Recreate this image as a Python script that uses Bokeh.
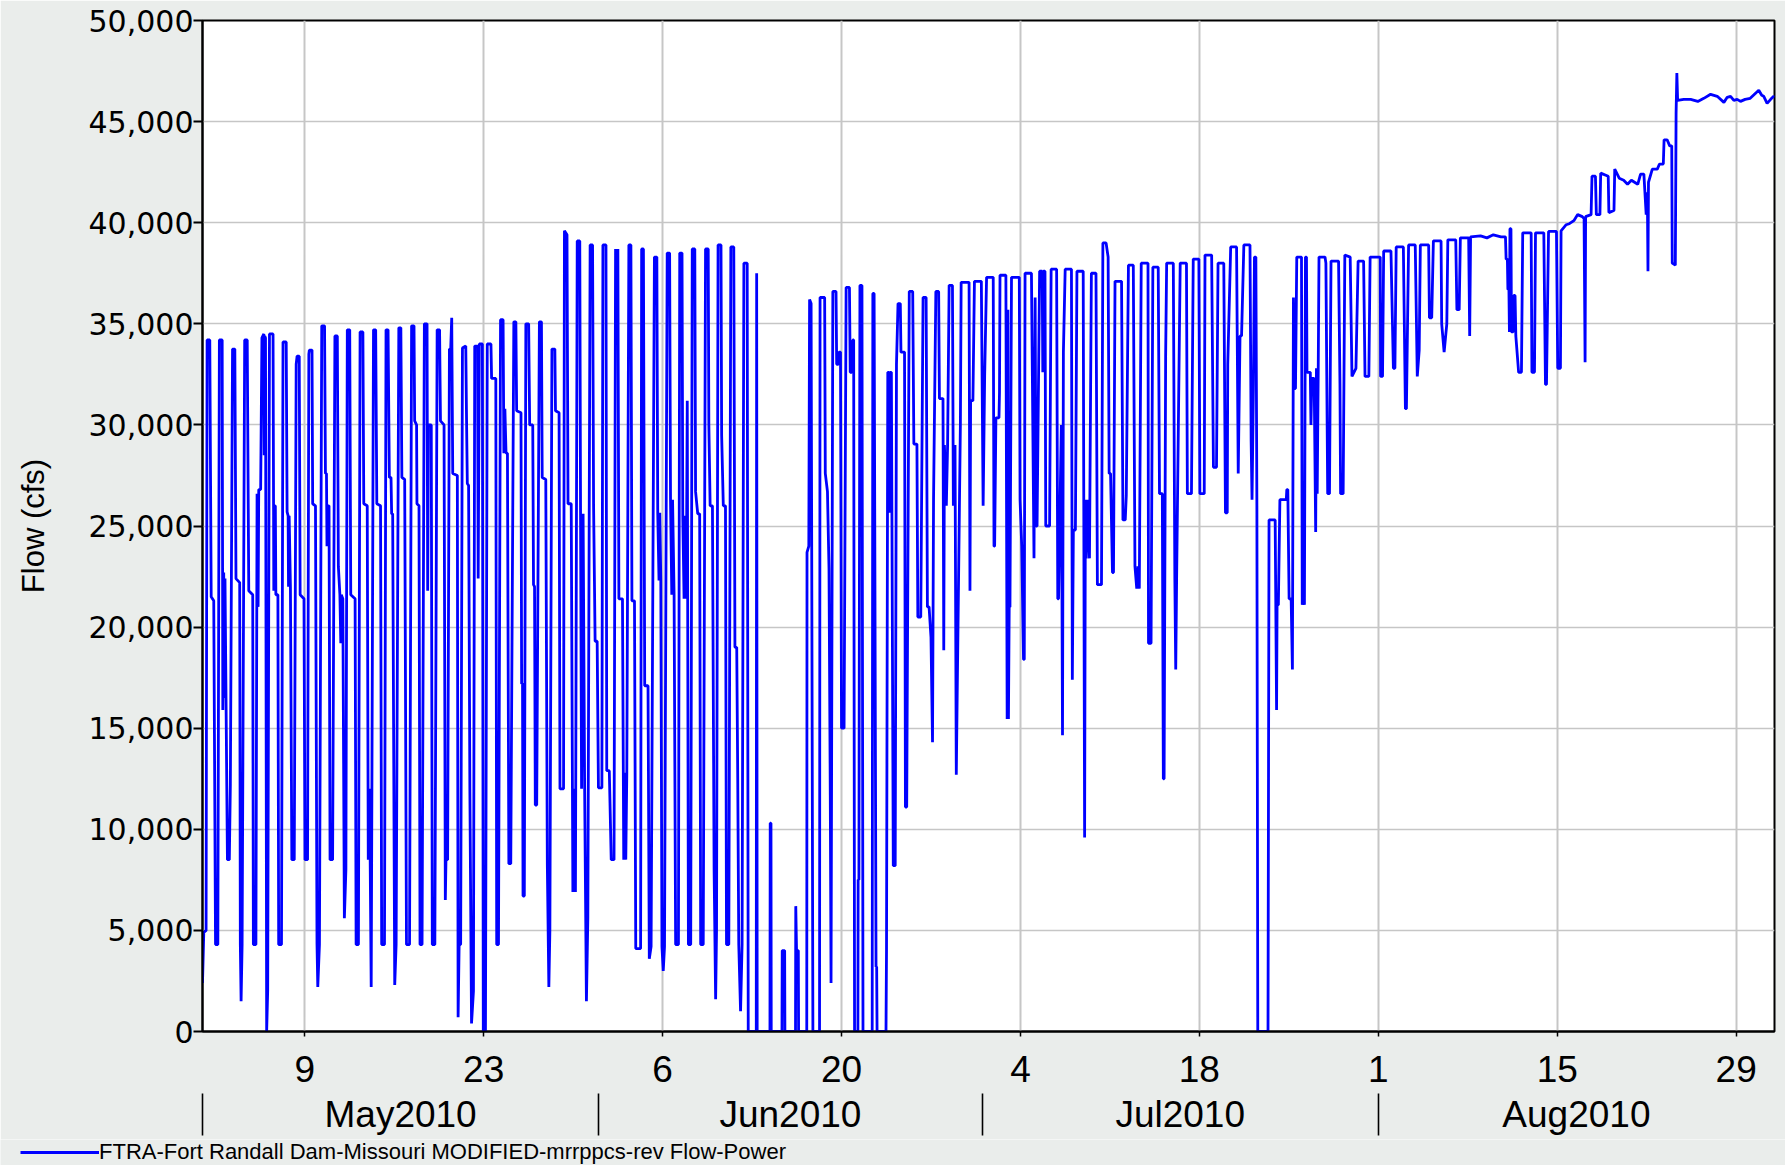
from datetime import datetime, timedelta
from bokeh.plotting import figure
from bokeh.layouts import column
from bokeh.models import (FixedTicker, DatetimeAxis, NumeralTickFormatter, Legend,
                          LegendItem, Range1d, ColumnDataSource)
from bokeh.embed import file_html
from bokeh.resources import INLINE

# ---------------- data: (day of month, flow in cfs) ----------------
may_points = [
    (1.00, 2400), (1.10, 4900), (1.28, 5000), (1.36, 34200), (1.57, 34200), (1.68, 21500), (1.88, 21300), (2.02, 4300),
    (2.20, 4300), (2.32, 34200), (2.54, 34200), (2.59, 15900), (2.66, 22700), (2.72, 16500), (2.76, 22400), (2.95, 8500), (3.10, 8500), (3.18, 12200),
    (3.35, 33750), (3.53, 33750), (3.62, 22400), (3.91, 22200), (3.96, 4300), (4.02, 1500), (4.10, 4300),
    (4.30, 34200), (4.50, 34200), (4.62, 21800), (4.93, 21600), (4.98, 4300), (5.18, 4300),
    (5.27, 26600), (5.35, 21000), (5.40, 26800), (5.55, 26800), (5.65, 34300), (5.80, 34500), (5.83, 28500), (5.87, 34400), (5.93, 34300), (6.02, 0),
    (6.10, 2000), (6.24, 34500), (6.52, 34500), (6.58, 21800), (6.64, 26000), (6.70, 26000), (6.74, 21600), (6.90, 21600), (6.96, 4300), (7.18, 4300),
    (7.30, 34100), (7.55, 34100), (7.62, 25700), (7.70, 25500), (7.73, 22000), (7.78, 25500), (7.88, 22000), (7.99, 8500), (8.18, 8500),
    (8.33, 33000), (8.40, 33400), (8.57, 33400), (8.64, 21600), (8.94, 21400), (9.02, 8500), (9.22, 8500),
    (9.32, 33500), (9.36, 33700), (9.57, 33700), (9.62, 26100), (9.84, 26000), (9.96, 4300), (10.02, 2200), (10.15, 4300),
    (10.33, 34900), (10.55, 34900), (10.62, 27600), (10.70, 27600), (10.74, 24000), (10.80, 26000), (10.90, 26000), (10.98, 8500), (11.18, 8500),
    (11.36, 34400), (11.55, 34400), (11.63, 23000), (11.75, 21600), (11.82, 19200), (11.86, 21600), (11.98, 21400), (12.10, 5600), (12.22, 8000),
    (12.33, 34700), (12.52, 34700), (12.60, 21600), (12.94, 21400), (13.02, 4300), (13.20, 4300),
    (13.33, 34600), (13.55, 34600), (13.62, 26100), (13.89, 26000), (13.97, 8500), (14.07, 12000), (14.12, 8500), (14.20, 2200),
    (14.38, 34700), (14.55, 34700), (14.64, 26100), (14.93, 26000), (15.02, 4300), (15.24, 4300),
    (15.36, 34700), (15.52, 34700), (15.62, 27400), (15.75, 27400), (15.80, 25600), (15.88, 25600), (16.04, 2300), (16.15, 4300),
    (16.36, 34800), (16.52, 34800), (16.60, 27400), (16.82, 27300), (16.96, 4300), (17.20, 4300),
    (17.36, 34900), (17.55, 34900), (17.60, 30200), (17.75, 30000), (17.78, 26100), (17.94, 26000), (18.02, 4300), (18.18, 4300),
    (18.36, 35000), (18.57, 35000), (18.62, 21800), (18.68, 30000), (18.90, 30000), (18.98, 4300), (19.18, 4300),
    (19.36, 34700), (19.55, 34700), (19.62, 30200), (19.90, 30000), (20.00, 6500), (20.05, 8500), (20.18, 8500),
    (20.32, 33750), (20.42, 33750), (20.50, 35300), (20.58, 27600), (20.94, 27500), (21.00, 700), (21.08, 4300), (21.20, 4300),
    (21.34, 33800), (21.60, 33900), (21.65, 30800), (21.72, 27100), (21.82, 27000), (21.92, 12000), (22.05, 400), (22.20, 2000),
    (22.30, 33900), (22.52, 33900), (22.57, 22400), (22.66, 34000), (22.90, 34000), (22.97, 0), (23.14, 0),
    (23.28, 34000), (23.57, 34000), (23.62, 32300), (23.95, 32300), (24.02, 4300), (24.16, 4300),
    (24.32, 35200), (24.52, 35200), (24.58, 28600), (24.66, 30800), (24.75, 28600), (24.86, 28600), (24.97, 8300), (25.12, 8300),
    (25.36, 35100), (25.52, 35100), (25.58, 30700), (25.92, 30600), (25.97, 17200), (26.04, 17200), (26.08, 6700), (26.18, 6700),
    (26.30, 35000), (26.52, 35000), (26.60, 30000), (26.84, 30000), (26.90, 22100), (26.98, 22000), (27.04, 11200), (27.15, 11200),
    (27.36, 35100), (27.52, 35100), (27.58, 27400), (27.86, 27300), (27.98, 8300), (28.10, 2200), (28.18, 5000),
    (28.34, 33750), (28.57, 33750), (28.62, 30700), (28.90, 30600), (28.97, 12000), (29.25, 12000),
    (29.32, 39600), (29.52, 39400), (29.60, 26100), (29.85, 26100), (29.98, 6900), (30.10, 12000), (30.18, 6900),
    (30.32, 39100), (30.52, 39100), (30.58, 25650), (30.66, 12000), (30.78, 25600), (30.90, 12000), (31.04, 1500), (31.15, 5600),
    (31.33, 38900), (31.52, 38900), (31.60, 26000), (31.72, 19300), (31.88, 19300), (31.98, 12050),
]

jun_points = [
    (1.00, 12050), (1.25, 12050), (1.33, 38900), (1.57, 38900), (1.63, 12900), (1.83, 12900), (1.98, 8500), (2.20, 8500),
    (2.32, 38700), (2.42, 36700), (2.50, 38700), (2.58, 21400), (2.86, 21400), (2.96, 8500), (3.05, 12800), (3.12, 8500), (3.20, 12800),
    (3.36, 38900), (3.52, 38900), (3.60, 21300), (3.80, 21300), (3.90, 4100), (4.28, 4100),
    (4.36, 38700), (4.50, 38700), (4.60, 17100), (4.86, 17100), (4.96, 3600), (5.10, 4200),
    (5.36, 38300), (5.55, 38300), (5.62, 25650), (5.72, 22300), (5.78, 25650), (5.86, 22300), (5.95, 4200), (6.05, 3000), (6.15, 4200),
    (6.36, 38500), (6.55, 38500), (6.62, 26300), (6.72, 21600), (6.78, 26300), (6.90, 21600), (7.02, 4300), (7.24, 4300),
    (7.34, 38500), (7.52, 38500), (7.58, 25500), (7.68, 21400), (7.75, 25500), (7.85, 21400), (7.93, 31200), (8.02, 4300), (8.20, 4300),
    (8.32, 38700), (8.52, 38700), (8.58, 26700), (8.75, 25600), (8.90, 25600), (8.98, 4300), (9.18, 4300),
    (9.36, 38700), (9.57, 38700), (9.62, 30000), (9.72, 26000), (9.90, 26000), (10.03, 8000), (10.15, 1600), (10.22, 5000),
    (10.34, 38900), (10.57, 38900), (10.62, 29500), (10.75, 26000), (10.92, 26000), (11.00, 4300), (11.18, 4300), (11.22, 12500),
    (11.34, 38800), (11.57, 38800), (11.66, 19000), (11.80, 19000), (11.88, 12500), (11.96, 4300), (12.10, 1000), (12.22, 4300),
    (12.36, 38000), (12.62, 38000), (12.70, 0),
    (13.33, 0), (13.36, 37500), (13.40, 0),
    (14.40, 0), (14.42, 10300), (14.48, 10300), (14.50, 0),
    (15.34, 0), (15.36, 4000), (15.55, 4000), (15.57, 0),
    (16.40, 0), (16.42, 6200), (16.48, 4000), (16.62, 4000), (16.64, 0),
    (17.28, 0), (17.30, 23700), (17.44, 24000), (17.50, 36200), (17.62, 36000), (17.76, 0), (18.28, 0),
    (18.32, 36300), (18.68, 36300), (18.73, 27600), (18.90, 26700), (19.02, 22900), (19.12, 11700), (19.18, 2400),
    (19.32, 36600), (19.57, 36600), (19.62, 33000), (19.75, 33000), (19.80, 33600), (19.92, 33600), (20.00, 15000), (20.20, 15000),
    (20.36, 36800), (20.62, 36800), (20.68, 32600), (20.80, 32600), (20.88, 34200), (20.95, 34200), (21.02, 0), (21.28, 0),
    (21.30, 7500), (21.36, 7500), (21.44, 36900), (21.60, 36900), (21.68, 0), (22.40, 0),
    (22.45, 36500), (22.55, 36500), (22.70, 3200), (22.75, 3200), (22.78, 0), (23.48, 0),
    (23.52, 4000), (23.62, 32600), (23.72, 32600), (23.76, 25650), (23.80, 32600), (23.90, 32600),
    (24.05, 8200), (24.20, 8200), (24.30, 33000), (24.42, 36000), (24.60, 36000), (24.65, 33600), (24.93, 33600), (25.00, 11100), (25.10, 11100),
    (25.30, 36600), (25.57, 36600), (25.66, 29050), (25.90, 29050), (25.97, 20500), (26.20, 20500),
    (26.38, 36300), (26.62, 36300), (26.72, 21000), (26.85, 21000), (27.00, 19500), (27.12, 14300), (27.20, 26300),
    (27.38, 36600), (27.60, 36600), (27.66, 31300), (27.94, 31300), (28.00, 18850), (28.05, 29000),
    (28.20, 26000), (28.30, 29000), (28.42, 36900), (28.68, 36900), (28.75, 26000), (28.88, 29000), (28.98, 12700), (29.05, 16600),
    (29.30, 30000), (29.36, 37050), (29.98, 37050), (30.05, 21800), (30.10, 31200),
    (30.28, 31200), (30.40, 37100), (30.94, 37100),
]

jul_points = [
    (1.08, 26000), (1.20, 32450), (1.35, 37300), (1.87, 37300), (1.93, 24000), (1.98, 24000),
    (2.08, 30350), (2.32, 30350), (2.36, 31600), (2.40, 37400), (2.86, 37400), (2.96, 15450), (3.02, 35700), (3.06, 15450), (3.12, 21000), (3.18, 21000),
    (3.30, 37300), (3.91, 37300), (3.97, 26300), (4.10, 24000),
    (4.24, 18400), (4.30, 18400), (4.36, 37500), (4.86, 37500),
    (5.06, 23400), (5.15, 36300), (5.22, 25000), (5.30, 25000), (5.50, 37600), (5.70, 37600), (5.75, 32600), (5.80, 37600), (5.92, 37600), (5.98, 25000), (6.28, 25000),
    (6.40, 37700), (6.83, 37700), (6.92, 21400), (6.98, 21400),
    (7.20, 30000), (7.29, 14650), (7.36, 33600), (7.50, 37700), (7.99, 37700),
    (8.06, 17400), (8.14, 24800), (8.30, 24800), (8.42, 37600), (8.91, 37600), (9.02, 9600), (9.08, 26300),
    (9.15, 23400), (9.30, 26300), (9.40, 23400), (9.55, 37500), (9.91, 37500), (10.02, 22100), (10.34, 22100),
    (10.45, 39000), (10.70, 39000), (10.86, 38300), (10.94, 27600),
    (11.05, 27600), (11.20, 22700), (11.28, 22700), (11.40, 37100), (11.91, 37100), (12.02, 25300), (12.20, 25300), (12.28, 26500),
    (12.45, 37900), (12.83, 37900), (12.96, 23000), (13.10, 21900), (13.20, 23000), (13.30, 21900),
    (13.45, 38000), (13.98, 38000), (14.02, 19200), (14.22, 19200),
    (14.36, 37800), (14.78, 37800), (14.88, 26600), (14.96, 26600),
    (15.10, 26600), (15.18, 12500), (15.24, 12500), (15.36, 33400), (15.44, 38000), (15.96, 38000), (16.08, 22400), (16.15, 17900), (16.22, 22400),
    (16.50, 38000), (16.99, 38000),
    (17.06, 26600), (17.38, 26600), (17.52, 38200), (17.96, 38200),
    (18.04, 26600), (18.38, 26600), (18.44, 38400), (18.96, 38400),
    (19.10, 27900), (19.34, 27900), (19.46, 38000), (19.91, 38000), (20.04, 25650), (20.18, 25650), (20.22, 33000),
    (20.45, 38800), (20.91, 38800), (21.04, 27600), (21.18, 34400),
    (21.30, 34400), (21.48, 38900), (21.96, 38900),
    (22.05, 29200), (22.12, 26300), (22.23, 32000), (22.31, 38300), (22.42, 38300), (22.50, 26000), (22.57, 0), (23.37, 0),
    (23.45, 25300), (23.93, 25300),
    (24.04, 15900), (24.08, 21100), (24.18, 21100), (24.30, 26300), (24.80, 26300), (24.84, 26800), (24.92, 26800),
    (25.02, 21400), (25.18, 21400), (25.28, 17900), (25.36, 36300), (25.44, 31800), (25.52, 31800), (25.62, 38300), (25.99, 38300),
    (26.05, 21100), (26.12, 22700), (26.22, 21100), (26.30, 38300), (26.38, 38300), (26.42, 32600), (26.68, 32600), (26.73, 30000), (26.80, 32300), (26.98, 32300),
    (27.10, 24700), (27.16, 32800), (27.22, 26600), (27.30, 32800), (27.36, 38300), (27.83, 38300), (27.90, 38000), (28.04, 26600), (28.18, 26600),
    (28.30, 38100), (28.89, 38100), (29.00, 32000), (29.05, 26600), (29.25, 26600),
    (29.38, 38400), (29.80, 38300), (29.94, 32400), (30.25, 32800),
    (30.42, 38100), (30.85, 38100), (30.96, 32400), (31.26, 32400),
    (31.36, 38300), (31.99, 38300),
]

aug_points = [
    (1.15, 38300), (1.18, 32400), (1.33, 32400),
    (1.42, 38600), (1.99, 38600), (2.18, 32800), (2.30, 32800),
    (2.40, 38800), (2.96, 38800), (3.12, 30800), (3.20, 30800),
    (3.37, 38900), (3.89, 38900), (4.05, 32400), (4.20, 33700),
    (4.29, 38900), (4.94, 38900), (5.00, 35300), (5.18, 35300),
    (5.31, 39100), (5.91, 39100), (5.96, 35000), (6.15, 33600), (6.36, 35000),
    (6.44, 39150), (7.06, 39150), (7.15, 35700), (7.33, 35700),
    (7.42, 39250), (8.07, 39250), (8.15, 34400), (8.22, 39300),
    (9.00, 39350), (9.50, 39250), (10.00, 39400), (10.60, 39300), (10.95, 39300),
    (11.00, 38200), (11.10, 38200), (11.14, 36700), (11.22, 36700), (11.26, 34600), (11.30, 39700), (11.38, 39700),
    (11.42, 34600), (11.55, 34600), (11.60, 36400), (11.70, 36400), (11.76, 34400), (11.98, 32600), (12.20, 32600),
    (12.30, 39500), (12.96, 39500), (13.02, 32600), (13.22, 32600),
    (13.30, 39500), (13.95, 39500), (14.08, 32000), (14.16, 32000),
    (14.32, 39570), (14.94, 39570), (15.04, 32800), (15.25, 32800),
    (15.30, 39600), (15.70, 39900), (15.95, 39950), (16.30, 40100), (16.60, 40400), (16.96, 40300),
    (17.10, 40200), (17.18, 33100), (17.22, 40300), (17.65, 40400), (17.72, 42300), (17.99, 42300),
    (18.06, 40400), (18.34, 40400), (18.40, 42450), (18.99, 42300),
    (19.04, 40500), (19.44, 40600), (19.50, 42650), (19.85, 42200),
    (20.20, 42100), (20.50, 41900), (20.80, 42100),
    (21.30, 41900), (21.52, 42400), (21.78, 42400), (21.96, 40400),
    (22.05, 41500), (22.10, 37600), (22.14, 42000), (22.44, 42650), (22.83, 42650),
    (23.00, 42900), (23.30, 42900), (23.36, 44100), (23.60, 44100), (23.80, 43800), (23.96, 43800),
    (24.00, 38000), (24.24, 37900), (24.30, 45400), (24.36, 47400), (24.42, 46050), (24.90, 46100),
    (25.44, 46100), (26.00, 46000), (26.47, 46150), (27.00, 46350), (27.52, 46250), (28.04, 45950),
    (28.30, 46200), (28.56, 46250), (28.82, 46050), (29.08, 46100), (29.34, 46000), (29.70, 46100),
    (30.10, 46150), (30.77, 46550), (31.00, 46300), (31.16, 46250), (31.42, 45900), (31.70, 46100), (31.94, 46250), (32.00, 46200),
]

month_starts = [(2010, 5), (2010, 6), (2010, 7), (2010, 8)]
month_labels = ["May2010", "Jun2010", "Jul2010", "Aug2010"]
day_tick_dates = [(5, 9), (5, 23), (6, 6), (6, 20), (7, 4), (7, 18), (8, 1), (8, 15), (8, 29)]
day_tick_labels = ["9", "23", "6", "20", "4", "18", "1", "15", "29"]
y_ticks = [0, 5000, 10000, 15000, 20000, 25000, 30000, 35000, 40000, 45000, 50000]
series_name = "FTRA-Fort Randall Dam-Missouri MODIFIED-mrrppcs-rev Flow-Power"

# ---------------- helpers ----------------
EPOCH = datetime(1970, 1, 1)
BG = "#eaedeb"


def ms(dt):
    return (dt - EPOCH).total_seconds() * 1000.0


xs, ys = [], []
for (yr, mo), pts in zip(month_starts, [may_points, jun_points, jul_points, aug_points]):
    base = datetime(yr, mo, 1)
    for t, q in pts:
        xs.append(ms(base + timedelta(days=t - 1)))
        ys.append(q)

src = ColumnDataSource(dict(x=xs, y=ys))

x_start = ms(datetime(2010, 5, 1))
x_end = ms(datetime(2010, 9, 1))

LINE_COLOR = "#0000ff"
LINE_WIDTH = 2.8

p = figure(width=1785, height=1139, x_axis_type="datetime",
           x_range=Range1d(x_start, x_end), y_range=Range1d(0, 50000),
           output_backend="svg", toolbar_location=None,
           min_border_left=202, min_border_right=11, min_border_top=20, min_border_bottom=108)

p.background_fill_color = "white"
p.border_fill_color = BG
p.outline_line_color = "black"
p.outline_line_width = 2

r = p.line("x", "y", source=src, line_color=LINE_COLOR, line_width=LINE_WIDTH)

# ---- y axis ----
yt = FixedTicker(ticks=y_ticks)
p.yaxis.ticker = yt
p.ygrid.ticker = yt
p.yaxis.formatter = NumeralTickFormatter(format="0,0")
p.yaxis.axis_label = "Flow (cfs)"
p.yaxis.axis_label_text_font = "Liberation Sans"
p.yaxis.axis_label_text_font_size = "31px"
p.yaxis.axis_label_text_font_style = "normal"
p.yaxis.axis_label_text_color = "black"
p.yaxis.axis_label_standoff = 35
p.yaxis.major_label_text_font = "DejaVu Sans"
p.yaxis.major_label_text_font_size = "30px"
p.yaxis.major_label_text_color = "black"
p.yaxis.major_label_standoff = 0
p.yaxis.major_tick_out = 9
p.yaxis.major_tick_in = 0
p.yaxis.major_tick_line_width = 2
p.yaxis.minor_tick_line_color = None
p.yaxis.axis_line_width = 2
p.ygrid.grid_line_color = "#c6c6c6"
p.ygrid.grid_line_width = 1.6

# ---- x axis: day numbers ----
day_ms = [ms(datetime(2010, m, d)) for m, d in day_tick_dates]
xt = FixedTicker(ticks=day_ms)
xax = p.xaxis[0]
xax.ticker = xt
p.xgrid.ticker = xt
xax.major_label_overrides = {t: lab for t, lab in zip(day_ms, day_tick_labels)}
xax.major_label_text_font = "Liberation Sans"
xax.major_label_text_font_size = "37px"
xax.major_label_text_color = "black"
xax.major_label_standoff = 19
xax.major_tick_out = 5
xax.major_tick_in = 0
xax.major_tick_line_width = 1.5
xax.minor_tick_line_color = None
xax.axis_line_width = 2
xax.axis_label = " "
xax.axis_label_text_font_size = "1px"
xax.axis_label_standoff = 5
p.xgrid.grid_line_color = "#c6c6c6"
p.xgrid.grid_line_width = 2

# ---- x axis: months ----
m_start_ms = [ms(datetime(y, m, 1)) for y, m in month_starts]
m_end_ms = m_start_ms[1:] + [x_end]
m_mid_ms = [(a + b) / 2 for a, b in zip(m_start_ms, m_end_ms)]
month_axis = DatetimeAxis(ticker=FixedTicker(ticks=m_mid_ms, minor_ticks=m_start_ms))
month_axis.major_label_overrides = {t: lab for t, lab in zip(m_mid_ms, month_labels)}
month_axis.major_label_text_font = "Liberation Sans"
month_axis.major_label_text_font_size = "37px"
month_axis.major_label_text_color = "black"
month_axis.major_label_standoff = -42
month_axis.major_tick_line_color = None
month_axis.major_tick_out = 0
month_axis.major_tick_in = 0
month_axis.minor_tick_line_color = "black"
month_axis.minor_tick_line_width = 1.6
month_axis.minor_tick_out = 42
month_axis.minor_tick_in = 0
month_axis.axis_line_color = None
p.add_layout(month_axis, "below")

# ---- legend strip (separate small figure so it can sit at the far left) ----
p2 = figure(width=1785, height=26, x_range=Range1d(0, 1), y_range=Range1d(0, 1),
            output_backend="svg", toolbar_location=None,
            x_axis_location=None, y_axis_location=None,
            min_border_left=0, min_border_right=0, min_border_top=0, min_border_bottom=0)
p2.background_fill_color = BG
p2.border_fill_color = BG
p2.outline_line_color = None
p2.grid.visible = False
for fig in (p, p2):
    try:
        fig.frame_align = False
    except Exception:
        pass
# legend proxy: same series, lies entirely outside this strip's ranges
proxy = p2.line("x", "y", source=src, line_color=LINE_COLOR, line_width=LINE_WIDTH)
legend = Legend(items=[LegendItem(label=series_name, renderers=[proxy])],
                location=(20, 0), orientation="vertical",
                padding=0, margin=0, spacing=0,
                glyph_width=79, glyph_height=26, label_standoff=0,
                label_text_font="Liberation Sans", label_text_font_size="22px",
                label_text_color="black", label_height=26,
                background_fill_alpha=0, border_line_color=None)
p2.add_layout(legend)

layout = column(p, p2, spacing=0)

open("out.html", "w").write(file_html(layout, INLINE))
